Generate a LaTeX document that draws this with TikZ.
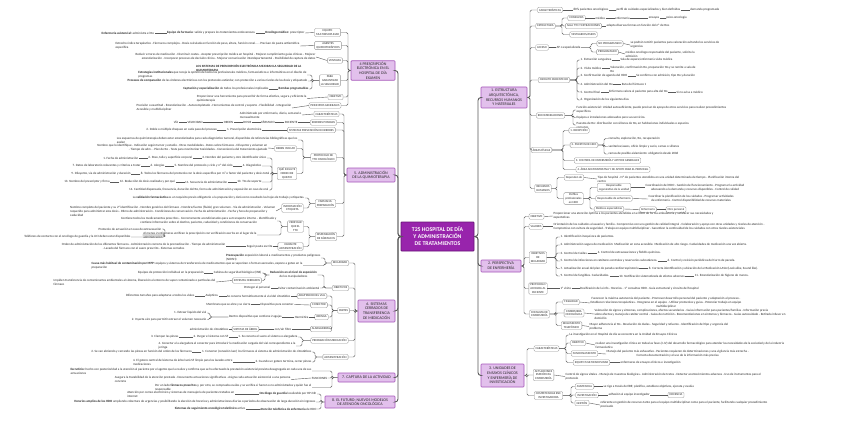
\documentclass[tikz,border=0pt]{standalone}
\usepackage{fontspec}
\setmainfont{Carlito}
\usetikzlibrary{positioning}
\definecolor{txtc}{RGB}{40,40,40}
\definecolor{bxd}{RGB}{150,150,150}
\definecolor{lnc}{RGB}{90,90,90}
\definecolor{mfill}{RGB}{226,192,236}
\definecolor{mdraw}{RGB}{165,85,185}
\definecolor{cfill}{RGB}{152,36,172}
\definecolor{cdraw}{RGB}{105,20,120}
\newcommand\myLf{\fontsize{3.2}{3.9}\selectfont}
\newcommand\myBx{\fontsize{3.0}{3.6}\selectfont}
\newcommand\myMf{\fontsize{4.0}{4.7}\selectfont}
\newcommand\myCf{\fontsize{5.8}{7.0}\selectfont\bfseries}
\newcommand\myR[3]{\draw[conn] (#2.east) -- (#1,0 |- #2.east) |- (#3.west);}
\newcommand\myL[3]{\draw[conn] (#2.west) -- (#1,0 |- #2.west) |- (#3.east);}
\newcommand\chR[2]{\draw[conn] (#1.east) -- (#2.west);}
\newcommand\chL[2]{\draw[conn] (#1.west) -- (#2.east);}
\tikzset{
  leaf/.style={inner sep=0.4pt, font=\myLf, text=txtc, align=left},
  lR/.style={leaf, anchor=west},
  lL/.style={leaf, anchor=east},
  box/.style={draw=bxd, fill=white, rounded corners=1.2pt, font=\myBx, text=txtc,
    inner xsep=1.6pt, inner ysep=1.2pt, align=center, line width=0.35pt, minimum height=5.5pt},
  mainn/.style={draw=mdraw, fill=mfill, rounded corners=0.8pt, font=\myMf, text=txtc,
    align=center, inner sep=1pt, line width=0.6pt},
  central/.style={draw=cdraw, fill=cfill, rounded corners=0.8pt, font=\myCf, text=white,
    align=center, inner sep=1pt, line width=0.8pt, minimum width=73pt, minimum height=29pt},
  conn/.style={draw=lnc, line width=0.4pt, rounded corners=1.5pt},
  trunk/.style={draw=lnc, line width=0.9pt, rounded corners=3pt},
}
\begin{document}
\begin{tikzpicture}[x=1pt,y=-1pt]
\useasboundingbox (0,0) rectangle (848,433);
\fill[white] (0,0) rectangle (848,433);

% ---------------- central and main nodes
\node[central] (C) at (437.5,236.5) {T25 HOSPITAL DE DÍA\\Y ADMINISTRACIÓN\\DE TRATAMIENTOS};
\node[mainn, minimum width=46pt, minimum height=21pt] (M1) at (504,97.5) {1. ESTRUCTURA\\ARQUITECTÓNICA,\\RECURSOS HUMANOS\\Y MATERIALES};
\node[mainn, minimum width=40pt, minimum height=12pt] (M2) at (501,266) {2. PERSPECTIVA\\DE ENFERMERÍA};
\node[mainn, minimum width=43pt, minimum height=23pt] (M3) at (502.5,375.5) {3. UNIDADES DE\\ENSAYOS CLÍNICOS\\Y ENFERMERÍA DE\\INVESTIGACIÓN};
\node[mainn, minimum width=44pt, minimum height=19pt] (M4) at (373,70.5) {4 PRESCRIPCIÓN\\ELECTRÓNICA EN EL\\HOSPITAL DE DÍA\\EXAMEN};
\node[mainn, minimum width=48pt, minimum height=14pt] (M5) at (371,175) {5. ADMINISTRACIÓN\\DE LA QUIMIOTERAPIA};
\node[mainn, minimum width=37pt, minimum height=22pt] (M6) at (376.5,311) {6. SISTEMAS\\CERRADOS DE\\TRANSFERENCIA\\DE MEDICACIÓN};
\node[mainn, minimum width=57pt, minimum height=9pt] (M7) at (366.5,377.5) {7. CAPTURA DE LA ACTIVIDAD};
\node[mainn, minimum width=70pt, minimum height=12pt] (M8) at (360,402) {8. EL FUTURO: NUEVOS MODELOS\\DE ATENCIÓN ONCOLÓGICA};
\foreach \m in {M1,M2,M3} {\draw[trunk] (C.east) -- (478,0 |- C.east) |- (\m.west);}
\foreach \m in {M4,M5,M6,M7,M8} {\draw[trunk] (C.west) -- (398,0 |- C.west) |- (\m.east);}

% ================= BRANCH 1
\node[box] (A1) at (550,10) {CARACTERÍSTICAS};
\node[lR] (A1a) at (573,10) {80\% pacientes oncológicos};
\node[leaf, right=7pt of A1a] (A1b) {perfil de cuidados especializados y bien definidos};
\node[leaf, right=9pt of A1b] (A1c) {demanda programada};
\myR{530}{M1}{A1} \chR{A1}{A1a} \chR{A1a}{A1b} \chR{A1b}{A1c}

\node[box] (A2) at (545.5,26) {ESTRUCTURA};
\node[box] (A2a) at (576.5,18) {CONSULTAS};
\node[lR] (A2a1) at (595,18) {médica};
\node[leaf, right=9pt of A2a1] (A2a2) {enfermería};
\node[leaf, right=18pt of A2a2] (A2a3) {ensayos};
\node[leaf, right=6pt of A2a3] (A2a4) {psico-oncología};
\node[box] (A2b) at (583.5,26) {SALA TTO Y EXTRACCIONES};
\node[lR] (A2b1) at (606,26) {adapta diversas formas en función del nº de ttos};
\node[box] (A2c) at (583.5,34.5) {VESTUARIOS/ASEOS};
\myR{530}{M1}{A2} \myR{562}{A2}{A2a} \myR{562}{A2}{A2b} \myR{562}{A2}{A2c}
\chR{A2a}{A2a1} \chR{A2a1}{A2a2} \chR{A2a2}{A2a3} \chR{A2a3}{A2a4} \chR{A2b}{A2b1}

\node[box] (A3) at (542,47.5) {ACCESO};
\node[lR] (A3a) at (556,47.5) {AP o especializada};
\node[box] (A3b) at (610,43.5) {NO PROGRAMADO};
\node[lR] (A3b1) at (630,45) {se podrán remitir pacientes para valoración evitando los servicios de\\urgencias};
\node[box] (A3c) at (607.5,52) {PROGRAMADO};
\node[lR] (A3c1) at (625,54) {médico oncólogo responsable del paciente, solicita la\\admisión};
\myR{530}{M1}{A3} \chR{A3}{A3a} \myR{591}{A3a}{A3b} \myR{591}{A3a}{A3c} \chR{A3b}{A3b1} \chR{A3c}{A3c1}

\node[box] (A4) at (554,80) {CIRCUITO PACIENTE HD};
\node[lR] (A4a) at (580,60) {1. Extracción sanguínea};
\node[leaf, right=8pt of A4a] (A4a2) {Sala de espera/enfermería visita médica};
\node[lR] (A4b) at (580,68) {2. Visita médica};
\node[leaf, right=8pt of A4b, yshift=-1.8pt] (A4b2) {Valoración, confirmación tto, preparación tto y se remite a sala de\\tto};
\node[lR] (A4c) at (580,76) {3. Confirmación de agenda del HDO};
\node[leaf, right=8pt of A4c] (A4c2) {Se confirma con admisión, tipo tto y duración};
\node[lR] (A4d) at (580,84) {4. Administración del tto};
\node[leaf, right=8pt of A4d] (A4d2) {Ruta del fármaco 1};
\node[lR] (A4e) at (580,92) {5. Control final};
\node[leaf, right=8pt of A4e] (A4e2) {Enfermera valora al paciente para alta del tto};
\node[leaf, right=8pt of A4e2] (A4e3) {Si no avisa a médico};
\node[lR] (A4f) at (580,100) {6. Organización de los siguientes días};
\myR{530}{M1}{A4}
\foreach \n in {A4a,A4b,A4c,A4d,A4e,A4f} {\myR{577}{A4}{\n}}
\chR{A4a}{A4a2} \chR{A4c}{A4c2} \chR{A4d}{A4d2} \chR{A4e}{A4e2} \chR{A4e2}{A4e3}
\draw[conn] (A4b.east) -- (A4b2.west |- A4b.east);

\node[box] (A5) at (550.5,115.5) {RECOMENDACIONES};
\node[lR] (A5a) at (576,110) {Función asistencial: Unidad autosuficiente, puede precisar de apoyo de otros servicios para realizar procedimientos\\específicos};
\node[lR] (A5b) at (576,117.5) {Equipos e instalaciones adecuados para sus servicios.};
\node[lR] (A5c) at (576,125) {Puestos de tto: distribución con sillones de tto, en habitaciones individuales o espacios\\comunes};
\myR{530}{M1}{A5} \myR{573}{A5}{A5a} \myR{573}{A5}{A5b} \myR{573}{A5}{A5c}

\node[box] (A6) at (541.5,150) {ÁREAS FÍSICAS};
\node[box] (A6a) at (579,130.5) {1. RECEPCIÓN};
\node[box] (A6b) at (584,145) {2. PUESTOS DE HDO};
\node[lR] (A6b1) at (608,138.5) {consulta, exploración, tto, recuperación};
\node[lR] (A6b2) at (608,146.5) {sanitarios/aseos, oficio limpio y sucio, camas o sillones};
\node[lR] (A6b3) at (608,154) {camas de posible aislamiento: obligatorio desde 2006};
\node[box] (A6c) at (607.5,160.5) {3. CONTROL DE ENFERMERÍA Y APOYOS GENERALES};
\node[box] (A6d) at (613,169.5) {4. ÁREA ADMINISTRATIVA Y DE APOYO PARA EL PERSONAL};
\myR{530}{M1}{A6}
\foreach \n in {A6a,A6b,A6c,A6d} {\myR{563}{A6}{\n}}
\foreach \n in {A6b1,A6b2,A6b3} {\myR{604}{A6b}{\n}}

\node[box] (A7) at (543,188.5) {RECURSOS\\HUMANOS};
\node[box] (A7a) at (574,177.5) {Dependen de};
\node[lR] (A7a1) at (597,179) {Tipo de hospital - Nº de pacientes atendidos en una unidad determinada de tiempo - Planificación interna del\\centro};
\node[box] (A7b) at (573.5,198.5) {Perfiles\\profesionales\\en HDO};
\node[box] (A7c) at (614,187.5) {Responsable\\organizativo de la unidad};
\node[lR, align=center] (A7c1) at (645,187.5) {Coordinación del HDO - Gestión del funcionamiento - Programar la actividad\\adecuando a la demanda y recursos disponibles - Control de calidad};
\node[box] (A7d) at (614,198.5) {Responsable de enfermería};
\node[lR, align=center] (A7d1) at (648,199) {Coordinar la planificación de los cuidados - Programar actividades\\de enfermería - Control disponibilidad de recursos materiales};
\node[box] (A7e) at (609,209) {Médicos especialistas};
\node[box] (A7f) at (648,209.5) {Enfermería};
\node[box] (A7g) at (676,209.5) {Otro personal};
\myR{530}{M1}{A7} \myR{557}{A7}{A7a} \myR{557}{A7}{A7b} \chR{A7a}{A7a1}
\myR{590}{A7b}{A7c} \myR{590}{A7b}{A7d} \myR{590}{A7b}{A7e}
\chR{A7c}{A7c1} \chR{A7d}{A7d1} \chR{A7e}{A7f} \chR{A7f}{A7g}

% ================= BRANCH 2
\node[box] (B1) at (536.5,216.5) {OBJETIVO};
\node[lR] (B1a) at (553,216) {Proporcionar una atención óptima a los pacientes atendidos en el HDO de forma ambulatoria y satisfacer sus necesidades y\\expectativas};
\node[box] (B2) at (536,226.5) {VALORES};
\node[lR] (B2a) at (553,226.5) {Orientación de los cuidados al usuario y familia - Compromiso con una gestión de calidad integral - Colaboración y apoyo con otras unidades y niveles de atención -\\Compromiso con cultura de seguridad - Trabajo en equipo multidisciplinar - Garantizar la continuidad de los cuidados con otros niveles asistenciales};
\node[box] (B3) at (538,257.5) {OBJETIVOS\\DE\\SEGURIDAD};
\node[lR] (B3a) at (560,237) {1. Identificación inequívoca de pacientes.};
\node[lR] (B3b) at (560,245) {2. Administración segura de medicación: Medicación en zona accesible. Medicación de alto riesgo. Caducidades de medicación una vez abierta.};
\node[lR] (B3c) at (560,253) {3. Control de Caídas.};
\node[leaf, right=9pt of B3c] (B3c2) {4. Control de extravasaciones y flebitis químicas.};
\node[lR] (B3d) at (560,261) {5. Control de infecciones en catéteres centrales y reservorios subcutáneos.};
\node[leaf, right=9pt of B3d] (B3d2) {6. Control y revisión periódicos del Carro de parada.};
\node[lR] (B3e) at (560,268.5) {7. Actualización anual del plan de parada cardiorrespiratoria};
\node[leaf, right=9pt of B3e] (B3e2) {8. Correcta identificación y ubicación de la Medicación LASA (Look alike, Sound like).};
\node[lR] (B3f) at (560,276) {9. Control de fungibles. Caducidades.};
\node[leaf, right=9pt of B3f] (B3f2) {10. Notificación sistematizada de efectos adversos};
\node[leaf, right=9pt of B3f2] (B3f3) {11. Estandarización de higiene de manos.};
\node[box] (B4) at (538,288.5) {PROTOCOLO\\ACOGIDA AL\\PACIENTE};
\node[lR] (B4a) at (560,288.5) {1ª visita};
\node[leaf, right=8pt of B4a] (B4a2) {Dosificación de la info - Horarios - 1ª consultas HDO - Guía estructural y circuito del hospital};
\node[box] (B5) at (539.5,314) {CONSULTA DE\\ENFERMERÍA};
\node[box] (B5a) at (571,302) {FINALIDAD};
\node[lR, align=center] (B5a1) at (590,303) {Favorecer la máxima autonomía del paciente - Promover desarrollo personal del paciente y adaptación al proceso -\\Establecer relaciones terapéuticas - Integrarse en el equipo - Utilizar protocolos y guías - Potenciar trabajo en equipo\\multidisciplinar};
\node[box] (B5b) at (574,313) {ENFERMERA\\ONCOLÓGICA};
\node[lR] (B5b1) at (594,314) {Valoración de signos y síntomas, complicaciones, efectos secundarios - Guías información para pacientes/familias - Información previa\\sobre efectos y manejo de catéter central - Guías de nutrición - Recomendaciones en síntomas y fármacos - Guías autocuidado - Retirada infusor en\\domicilio};
\node[box] (B5c) at (571.5,325.5) {SEGUIMIENTO\\TELEFÓNICO};
\node[lR] (B5c1) at (589,326.5) {Mayor adherencia al tto - Resolución de dudas - Seguridad y refuerzo - Identificación del tipo y urgencia del\\problema};
\foreach \n in {B1,B2,B3,B4,B5} {\myR{524}{M2}{\n}}
\chR{B1}{B1a} \chR{B2}{B2a}
\foreach \n in {B3a,B3b,B3c,B3d,B3e,B3f} {\myR{556}{B3}{\n}}
\chR{B3c}{B3c2} \chR{B3d}{B3d2} \chR{B3e}{B3e2} \chR{B3f}{B3f2} \chR{B3f2}{B3f3}
\chR{B4}{B4a} \chR{B4a}{B4a2}
\myR{556}{B5}{B5a} \myR{556}{B5}{B5b} \myR{556}{B5}{B5c}
\chR{B5a}{B5a1} \chR{B5b}{B5b1} \chR{B5c}{B5c1}

% ================= BRANCH 3
\node[box] (D1) at (546.5,348.5) {CARACTERÍSTICAS};
\node[lR] (D1a) at (569,335) {La investigación en el Hospital de día se concentra en la Unidad de Ensayos Clínicos};
\node[box] (D1b) at (578,343) {OBJETIVO};
\node[lR] (D1b1) at (595,345) {realizar una investigación clínica en todas las fases (I-IV) del desarrollo farmacológico para atender las necesidades de la sociedad y de la industria\\farmacéutica};
\node[box] (D1c) at (584.5,353.5) {FUNCIONAMIENTO};
\node[lR, align=center] (D1c1) at (606,354) {Manejo del paciente más exhaustivo - Pacientes requieren de determinaciones y una vigilancia más estrecha -\\Correcta documentación y el uso de la información más precisa};
\node[box] (D1d) at (591.5,362.5) {EQUIPO MULTIDISCIPLINAR};
\node[lR] (D1d1) at (620,362.5) {enfermeras de ensayos clínicos e investigación};
\node[box] (D2) at (543.5,375) {ACTUACIONES\\ESPECÍFICAS\\ENFERMERÍA};
\node[lR] (D2a) at (565,376.5) {Control de signos vitales - Manejo de muestras biológicas - Administración de tratos - Detectar acontecimientos adversos - Uso de instrumentos para el\\protocolo};
\node[box] (D3) at (548.5,395.5) {COMPETENCIAS ENF.\\INVESTIGADORA};
\node[box] (D3a) at (584.5,386.5) {ASISTENCIAL};
\node[lR] (D3a1) at (603,386.5) {se rige a través de EBE; planifica, establece objetivos, ejecuta y evalúa};
\node[box] (D3b) at (587,395) {INVESTIGACIÓN};
\node[lR] (D3b1) at (608,395) {adhesión al equipo investigador};
\node[box] (D3b2) at (676,395) {DOCENCIA};
\node[box] (D3c) at (582,403) {GESTIÓN};
\node[lR] (D3c1) at (600,405) {referente en gestión de recursos tanto para el equipo multidisciplinar como para el paciente, facilitando cualquier procedimiento\\precisado};
\foreach \n in {D1,D2,D3} {\myR{527}{M3}{\n}}
\foreach \n in {D1a,D1b,D1c,D1d} {\myR{566}{D1}{\n}}
\chR{D1b}{D1b1} \chR{D1c}{D1c1} \chR{D1d}{D1d1} \chR{D2}{D2a}
\foreach \n in {D3a,D3b,D3c} {\myR{571}{D3}{\n}}
\chR{D3a}{D3a1} \chR{D3b}{D3b1} \chR{D3b1}{D3b2} \chR{D3c}{D3c1}

% ================= BRANCH 4
\node[box] (E1) at (327.5,32.5) {EQUIPO\\MULTIDISCIPLINAR};
\node[lL] (E1c) at (305,33) {\textbf{Oncólogo médico:} prescriptor};
\node[leaf, left=9pt of E1c] (E1b) {\textbf{Equipo de farmacia:} valida y prepara los tratamientos endovenosos};
\node[leaf, left=12pt of E1b] (E1a) {\textbf{Enfermería asistencial:} administra el tto};
\node[box] (E2) at (328,45.5) {AGENTES\\QUIMIOTERÁPICOS};
\node[lL] (E2a) at (300,46) {Estrecho índice terapéutico - Fármacos complejos - Dosis calculada en función de peso, altura, función renal... - Precisan de pauta antiemética\\específica};
\node[box] (E3) at (335,60.5) {VENTAJAS};
\node[lL, align=right] (E3a) at (316,57) {Reducir errores de medicación - Disminuir costes - Aceptar prescripción médica en hospital - Mejorar cumplimiento guías clínicas - Mejorar\\estandarización - Incorporar procesos de decisión clínica - Mejorar comunicación interdepartamental - Posibilidad de captura de datos};
\node[lL] (E3b) at (302,68) {\textbf{LOS SISTEMAS DE PRESCRIPCIÓN ELECTRÓNICA MEJORAN LA SEGURIDAD DE LA}\\\textbf{QUIMIOTERAPIA}};
\node[box] (E4) at (330,80.5) {PARA\\GARANTIZAR\\LA SEGURIDAD};
\node[lL] (E4a) at (307,75) {\textbf{Estrategias institucionales} que recoja la opinión de todos los profesionales médicos, farmacéuticos e informáticos en el diseño de\\programas};
\node[lL] (E4b) at (308,81) {\textbf{Procesos de comparación} de las órdenes electrónicas con los protocolos estándar, con protección a varios niveles de las dosis y etiquetado};
\node[lL] (E4c2) at (309,89) {\textbf{Bombas programables}};
\node[leaf, left=9pt of E4c2] (E4c1) {\textbf{Captación y especialización} de todos los profesionales implicados};
\node[box] (E5) at (335.5,97) {OBJETIVO};
\node[lL] (E5a) at (307,98.5) {Proporcionar una herramienta para prescribir de forma efectiva, segura y eficiente la\\quimioterapia};
\node[box] (E6) at (325,105.5) {PRINCIPIOS GENERALES};
\node[lL] (E6a) at (292,108) {Precisión o exactitud - Estandarización - Autocompletado - Herramientas de control y soporte - Flexibilidad - Integración\\Accesible y multidisciplinar};
\foreach \n in {E1,E2,E3,E4,E5,E6} {\myL{348}{M4}{\n}}
\chL{E1}{E1c} \chL{E1c}{E1b} \chL{E1b}{E1a} \chL{E2}{E2a} \chL{E3}{E3a}
\foreach \n in {E4a,E4b,E4c2} {\myL{312}{E4}{\n}}
\chL{E4c2}{E4c1} \chL{E5}{E5a} \chL{E6}{E6a}

% ================= BRANCH 5
\node[box] (F1) at (326.5,114) {CARACTERÍSTICAS};
\node[lL] (F1a) at (302,115) {Administrado por enfermería, diaria, semanal o\\mensualmente};
\node[box] (F2) at (323.5,122.5) {ERRORES POSIBLES};
\node[lL] (F2a) at (298,122.5) {PACIENTE};
\node[leaf, left=9pt of F2a] (F2b) {FÁRMACO};
\node[leaf, left=9pt of F2b] (F2c) {DOSIS};
\node[leaf, left=9pt of F2c] (F2d) {ORDEN};
\node[leaf, left=20pt of F2d] (F2e) {VELOCIDAD};
\node[leaf, left=8pt of F2e] (F2f) {VÍA};
\node[box] (F3) at (311.5,130) {SISTEMAS PREVENCIÓN DE ERRORES};
\node[lL] (F3a) at (262,130) {1. Prescripción electrónica};
\node[leaf, left=9pt of F3a] (F3b) {2. Doble o múltiple chequeo en cada paso del proceso};
\node[box] (F4) at (323.5,157.5) {PROTOCOLO DE\\TTO ONCOLÓGICO};
\node[lL] (F4a) at (298,140) {Los esquemas de quimioterapia deben estar estandarizados para cada diagnóstico tumoral, disponibles de referencias bibliográficas que los\\avalen};
\node[box] (F4b) at (285.5,148.5) {DEBEN INCLUIR};
\node[lL, align=right] (F4b1) at (268,148) {Nombre que lo identifique - Indicación según tumor y estadio - Otras modalidades - Datos sobre fármacos - Diluyente y volumen en\\- Tiempo de adm. - Plan de tto - Tests para monitorizar toxicidades - Conveniencia del tratamiento ajustado};
\node[box] (F4c) at (287,173.5) {QUÉ INCLUYE\\ORDEN DE\\QUIMIO};
\node[lL] (Q1) at (267,158) {3. Nombre del paciente y otro identificador único};
\node[leaf, left=9pt of Q1] (Q2) {2. Peso, talla y superficie corporal};
\node[leaf, left=9pt of Q2] (Q3) {1. Fecha de administración};
\node[lL] (Q4) at (262,166) {4. Diagnóstico};
\node[leaf, left=9pt of Q4] (Q5) {5. Nombre del protocolo y ciclo y nº del ciclo};
\node[leaf, left=9pt of Q5] (Q6) {6. Alergias};
\node[leaf, left=9pt of Q6] (Q7) {7. Datos de laboratorio relevantes y criterios a tratar};
\node[lL] (Q8) at (270,174) {8. Todos los fármacos del protocolo con la dosis específica por m² o factor del paciente y dosis total};
\node[leaf, left=9pt of Q8] (Q9) {9. Diluyente, vía de administración y duración};
\node[lL] (Q10) at (262,182) {10. Tto de soporte};
\node[leaf, left=9pt of Q10] (Q11) {11. Secuencia de administración};
\node[leaf, left=9pt of Q11] (Q12) {12. Reducción de dosis realizada y por qué};
\node[leaf, left=9pt of Q12] (Q13) {13. Nombre del prescriptor y firma};
\node[lL] (Q14) at (269,190) {14. Cantidad dispensada, frecuencia, duración del tto, forma de administración y exposición en caso de oral};
\node[box] (F5) at (325.5,203.5) {FARMACIA:\\PREPARACIÓN};
\node[lL] (F5a) at (305,198) {La \textbf{validación farmacéutica} es un requisito previo obligatorio a la preparación y dará como resultado las hojas de trabajo y etiquetas.};
\node[box] (F5b) at (292.5,208) {INFORMACIÓN\\ETIQUETA};
\node[lL] (F5b1) at (276,211) {Nombre completo del paciente y su 2º identificación - Nombre genérico del fármaco - Nombre/fuente (fluido) gran volumen - Vía de administración - Volumen\\requerido para administrar esta dosis - Ritmo de administración - Condiciones de conservación. Fecha de administración - Fecha y hora de preparación y\\caducidad};
\node[box] (F6) at (326,236.5) {DISPENSACIÓN\\DE FÁRMACOS};
\node[box] (F6a) at (295.5,226.5) {VERIFICAR\\QUE EL\\TTO};
\node[lL, align=center] (F6a1) at (277,221) {Contiene todos los medicamentos prescritos - Correctamente acondicionados para su transporte interno - Identificado y\\contiene información sobre el destino, paciente, caducidad y condiciones de conservación};
\node[lL] (F6a2) at (257,235) {Al menos 2 enfermeras verifican la prescripción con verificación escrita en el lugar de la\\administración};
\node[lL] (F6a3) at (162,229) {Protocolo de actuación en caso de extravasación};
\node[lL] (F6a4) at (131,237) {Teléfonos de contacto con el oncólogo de guardia y la UCI deben estar disponibles};
\node[box] (F6b) at (290.5,246.5) {DURANTE\\ADMINISTRACIÓN};
\node[lL] (F6b1) at (273,246.5) {Seguir pauta escrita};
\node[lL, align=center] (F6b2) at (226,246.5) {Orden de administración de los diferentes fármacos - Administración correcta de la premedicación - Tiempo de administración\\- Lavado del fármaco con el suero prescrito - Sistemas cerrados};
\foreach \n in {F1,F2,F3,F4,F5,F6} {\myL{344}{M5}{\n}}
\chL{F1}{F1a} \chL{F2}{F2a} \chL{F2a}{F2b} \chL{F2b}{F2c} \chL{F2c}{F2d} \chL{F2d}{F2e} \chL{F2e}{F2f}
\chL{F3}{F3a} \chL{F3a}{F3b}
\myL{303}{F4}{F4a} \myL{303}{F4}{F4b} \myL{303}{F4}{F4c} \chL{F4b}{F4b1}
\foreach \n in {Q1,Q4,Q8,Q10,Q14} {\myL{272}{F4c}{\n}}
\chL{Q1}{Q2} \chL{Q2}{Q3} \chL{Q4}{Q5} \chL{Q5}{Q6} \chL{Q6}{Q7} \chL{Q8}{Q9}
\chL{Q10}{Q11} \chL{Q11}{Q12} \chL{Q12}{Q13}
\myL{309}{F5}{F5a} \myL{309}{F5}{F5b} \chL{F5b}{F5b1}
\myL{309}{F6}{F6a} \myL{309}{F6}{F6b}
\myL{281}{F6a}{F6a1} \myL{281}{F6a}{F6a2}
\myL{165}{F6a2}{F6a3} \myL{165}{F6a2}{F6a4}
\chL{F6b}{F6b1} \chL{F6b1}{F6b2}

% ================= BRANCH 6
\node[box] (G1) at (340,263) {SEGURIDAD};
\node[lL] (G1a) at (321,258) {\textbf{Preocupación} exposición laboral a medicamentos y productos peligrosos\\(NIOSH)};
\node[lL] (G1b) at (303,265.5) {\textbf{Causa más habitual de contaminación por MPP:} equipos y sistemas de transferencia de medicamentos que se vaporizan o forman aerosoles, expone a goteo en la\\preparación};
\node[box] (G2) at (340.5,288) {OBJETIVOS};
\node[leaf, align=center] (G2a) at (293.5,275) {\textbf{Reducción en el nivel de exposición}\\de los manipuladores};
\node[lL] (G2a1) at (262,273) {Cabinas de seguridad biológica (CSB)};
\node[leaf, left=9pt of G2a1] (G2a2) {Equipos de protección individual en la preparación};
\node[box] (G2a3) at (247,280.5) {SISTEMAS CERRADOS};
\node[lL] (G2a4) at (216,282) {Impiden transferencia de contaminantes ambientales al sistema, liberación al entorno de vapor contaminado o partículas del\\fármaco};
\node[lL] (G2b) at (320,288) {Evitar contaminación ambiental};
\node[leaf, left=7pt of G2b] (G2c) {Proteger al personal};
\myL{355}{M6}{G1} \myL{355}{M6}{G2}
\myL{325}{G1}{G1a} \myL{325}{G1}{G1b}
\myL{324}{G2}{G2a} \myL{324}{G2}{G2b} \chL{G2b}{G2c}
\myL{265}{G2a}{G2a1} \myL{265}{G2a}{G2a3} \chL{G2a1}{G2a2} \chL{G2a3}{G2a4}

\node[box] (G3) at (343.5,310.5) {PARTES};
\node[box] (G3a) at (312,296) {ADAPTADOR DEL VIAL};
\node[lL] (G3a1) at (291,296) {Se conecta herméticamente al vial del citostático};
\node[leaf, left=8pt of G3a1] (G3a2) {Asépticos};
\node[leaf, left=10pt of G3a2] (G3a3) {Diferentes tamaños para adaptarse a todos los viales};
\node[box] (G3b) at (319,305) {CONECTOR};
\node[lL] (G3b1) at (294,304.5) {Dispositivo para conectar};
\node[leaf, left=9pt of G3b1] (G3b2) {Membrana que se abre y se cierra};
\node[box] (G3c) at (321.5,317) {JERINGA};
\node[lL] (G3c1) at (309,317) {Hermética};
\node[leaf, left=12pt of G3c1] (G3c2) {Dentro dispositivo que contiene 2 agujas};
\node[lL] (G3c3) at (207,313) {1. Extraer líquido del vial};
\node[lL] (G3c4) at (207,319.5) {2. Inyecta aire para permitir extraer el volumen necesario};
\node[box] (G3d) at (321,329) {ALARGADERAS};
\node[lL] (G3d1) at (292,329) {con/sin filtro};
\node[box] (G3d2) at (245.5,329) {SISTEMA DE ÁRBOL};
\node[lL] (G3d3) at (229,329) {administración de citostáticos};
\myL{355}{M6}{G3}
\foreach \n in {G3a,G3b,G3c,G3d} {\myL{332}{G3}{\n}}
\chL{G3a}{G3a1} \chL{G3a1}{G3a2} \chL{G3a2}{G3a3} \chL{G3b}{G3b1} \chL{G3b1}{G3b2}
\chL{G3c}{G3c1} \chL{G3c1}{G3c2} \myL{210}{G3c2}{G3c3} \myL{210}{G3c2}{G3c4}
\chL{G3d}{G3d1} \chL{G3d1}{G3d2} \chL{G3d2}{G3d3}

\node[box] (G4) at (329.5,340.5) {PREPARACIÓN MEDICACIÓN};
\node[lL] (G4a) at (298,337) {1. Se conecta el suero al sistema o alargadera};
\node[leaf, left=9pt of G4a] (G4b) {2. Purgar el sistema con SF};
\node[leaf, left=14pt of G4b] (G4c) {3. Clampar las pinzas};
\node[lL] (G4d) at (296,346) {4. Conectar a la alargadera el conector para introducir la medicación cargada del vial correspondiente a la\\jeringa};
\node[box] (G5) at (335.5,357) {ADMINISTRACIÓN};
\node[lL] (G5a) at (312,352) {1. Conectar (conexión luer) los fármacos al sistema de administración de citostáticos};
\node[leaf, left=9pt of G5a] (G5b) {2. Se van abriendo y cerrando las pinzas en función del orden de los fármacos};
\node[lL] (G5c) at (312,362) {3. Cuando un gotero termina, cerrar pinzas};
\node[leaf, left=22pt of G5c] (G5d) {4. El gotero central del sistema de árbol será SF limpio para los lavados entre\\medicaciones};
\myL{355}{M6}{G4} \myL{355}{M6}{G5}
\myL{302}{G4}{G4a} \myL{302}{G4}{G4d} \chL{G4a}{G4b} \chL{G4b}{G4c}
\myL{315}{G5}{G5a} \myL{315}{G5}{G5c} \chL{G5a}{G5b} \chL{G5c}{G5d}

% ================= BRANCH 7
\node[lL] (H1) at (312,371) {\textbf{Escrutinio:} hecho con posterioridad a la atención al paciente por el agente que la realiza y confirma que se ha efectuado la prestación asistencial prevista desagregada en cada una de sus\\actuaciones};
\node[leaf] (H2) at (319.5,378) {FUNCIONES};
\node[lL] (H2a) at (291,379.5) {Asegura la trazabilidad de la atención prestada - Documenta actuaciones significativas - Asigna cada actuación asistencial a una persona\\concreta};
\node[lL] (H3) at (312,387.5) {Por un lado \textbf{fármacos prescritos} y, por otro, se comprueba cuáles y se verifica si fueron o no administrados y quién fue el\\responsable};
\myL{332}{M7}{H1} \myL{332}{M7}{H2} \myL{332}{M7}{H3} \chL{H2}{H2a}

% ================= BRANCH 8
\node[lL] (K1) at (317,394) {\textbf{Oncólogo de guardia} localizable por HP 24h};
\node[leaf, left=24pt of K1] (K1b) {Atención por correo electrónico y sistemas de mensajería de pacientes tratados en\\internet};
\node[lL] (K2) at (316,402) {\textbf{Horarios amplios de los HDO} ampliando cobertura de urgencias y posibilitando la elección de horarios y administraciones diarias o periodos de observación de larga duración sin ingresos};
\node[lL] (K3) at (317,409) {\textbf{Atención telefónica de enfermería} de HDO};
\node[leaf, left=14pt of K3] (K3b) {\textbf{Sistemas de seguimiento oncológico telefónico} activo};
\myL{321}{M8}{K1} \myL{321}{M8}{K2} \myL{321}{M8}{K3} \chL{K1}{K1b} \chL{K3}{K3b}
\end{tikzpicture}
\end{document}
